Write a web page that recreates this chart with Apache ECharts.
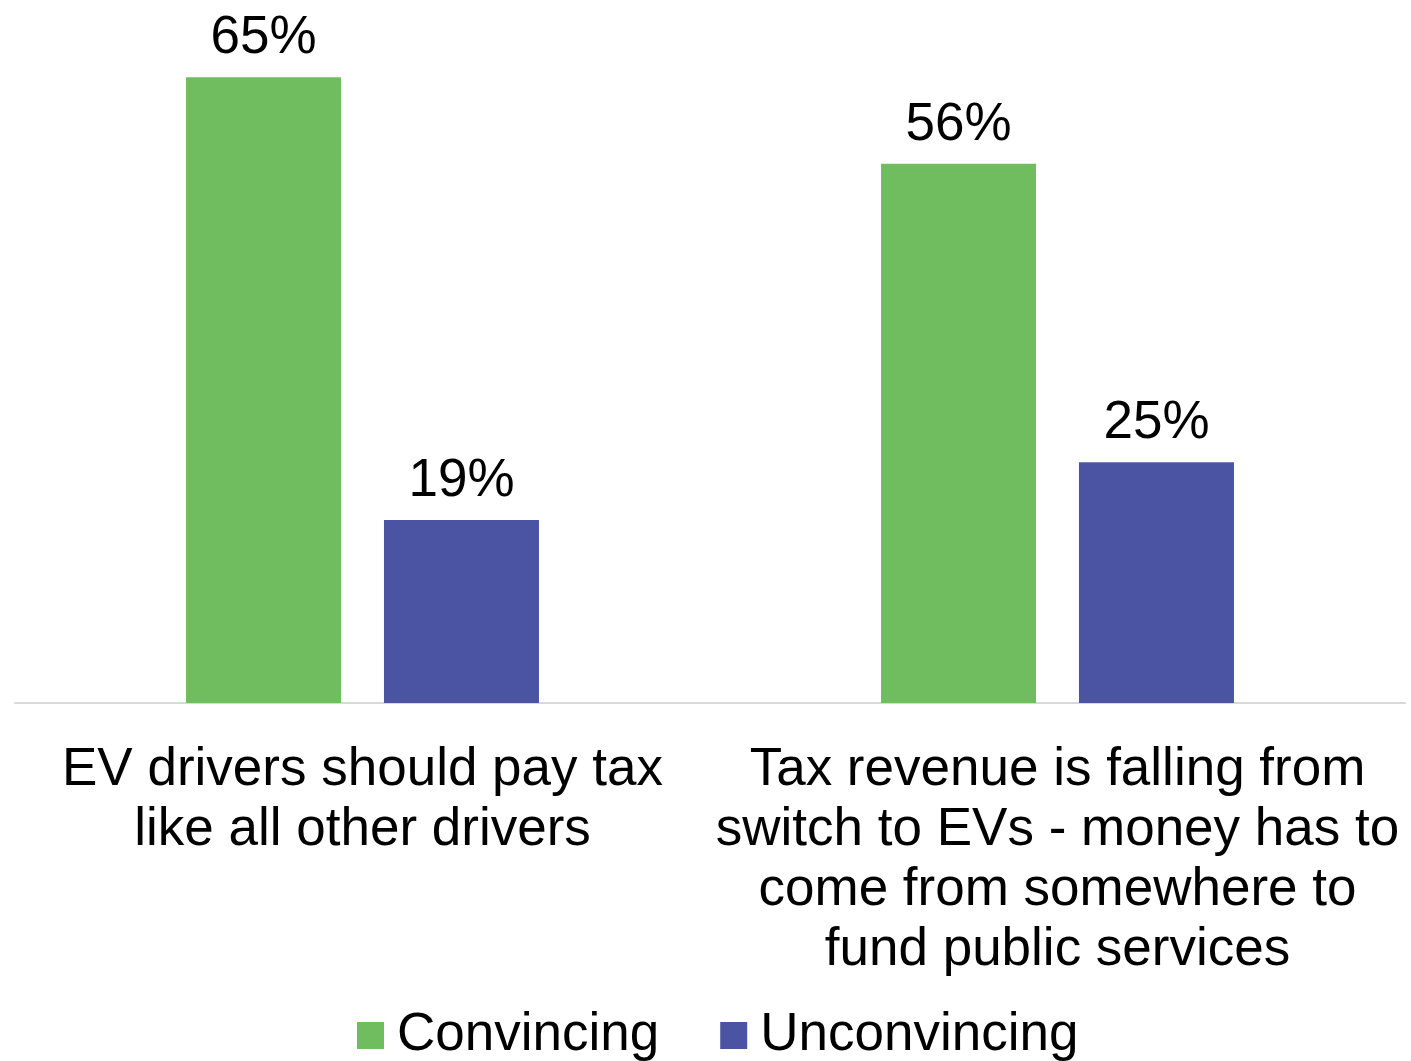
<!DOCTYPE html>
<html>
<head>
<meta charset="utf-8">
<script src="https://cdn.jsdelivr.net/npm/echarts@6/dist/echarts.min.js"></script>
<style>
  html, body { margin: 0; padding: 0; background: #ffffff; }
  #chart { width: 1411px; height: 1061px; }
</style>
</head>
<body>
<div id="chart"></div>
<script>
// Survey statements (line breaks as shown under the axis)
const categories = [
  'EV drivers should pay tax\nlike all other drivers',
  'Tax revenue is falling from\nswitch to EVs - money has to\ncome from somewhere to\nfund public services'
];
const seriesNames = ['Convincing', 'Unconvincing'];
const convincing = [65, 56];
const unconvincing = [19, 25];

const FONT = '"Liberation Sans", Arial, sans-serif';

const chart = echarts.init(document.getElementById('chart'), null, { renderer: 'canvas' });

const labelStyle = {
  show: true,
  position: 'top',
  distance: 12,
  formatter: '{c}%',
  fontFamily: FONT,
  fontSize: 53,
  lineHeight: 53,
  color: '#000000'
};

chart.setOption({
  animation: false,
  backgroundColor: '#ffffff',
  grid: { left: 15, right: 6, top: 29, bottom: 358, containLabel: false },
  legend: {
    data: seriesNames,
    left: 352,
    top: 1004,
    itemWidth: 27,
    itemHeight: 27,
    itemGap: 61,
    icon: 'rect',
    textStyle: {
      fontFamily: FONT,
      fontSize: 53,
      lineHeight: 53,
      color: '#000000',
      padding: [0, 0, 0, 8]
    }
  },
  xAxis: {
    type: 'category',
    data: categories,
    axisLine: { show: true, lineStyle: { color: '#d9d9d9', width: 2 } },
    axisTick: { show: false },
    axisLabel: {
      interval: 0,
      margin: 37,
      fontFamily: FONT,
      fontSize: 53,
      lineHeight: 60,
      color: '#000000',
      align: 'center'
    }
  },
  yAxis: {
    type: 'value',
    min: 0,
    max: 70,
    show: false,
    splitLine: { show: false }
  },
  series: [
    {
      name: seriesNames[0],
      type: 'bar',
      data: convincing,
      barWidth: 155,
      barGap: '27.7%',
      itemStyle: { color: '#70BD5F' },
      label: labelStyle
    },
    {
      name: seriesNames[1],
      type: 'bar',
      data: unconvincing,
      barWidth: 155,
      barGap: '27.7%',
      itemStyle: { color: '#4B54A3' },
      label: labelStyle
    }
  ]
});
</script>
</body>
</html>
